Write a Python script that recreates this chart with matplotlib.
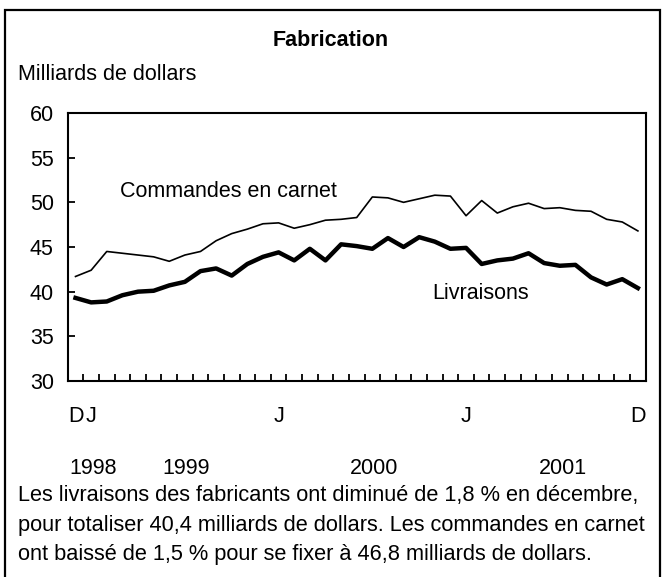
import matplotlib
matplotlib.use("Agg")
import matplotlib.pyplot as plt
import matplotlib.transforms as mtransforms
from matplotlib.patches import Rectangle

plt.rcParams["font.family"] = ["Liberation Sans", "DejaVu Sans"]

# monthly values, Dec 1998 .. Dec 2001 (billions of dollars)
commandes = [41.7, 42.4, 44.5, 44.3, 44.1, 43.9, 43.4, 44.1, 44.5, 45.7,
             46.5, 47.0, 47.6, 47.7, 47.1, 47.5, 48.0, 48.1, 48.3, 50.6,
             50.5, 50.0, 50.4, 50.8, 50.7, 48.5, 50.2, 48.8, 49.5, 49.9,
             49.3, 49.4, 49.1, 49.0, 48.1, 47.8, 46.8]
livraisons = [39.3, 38.8, 38.9, 39.6, 40.0, 40.1, 40.7, 41.1, 42.3, 42.6,
              41.8, 43.1, 43.9, 44.4, 43.5, 44.8, 43.5, 45.3, 45.1, 44.8,
              46.0, 45.0, 46.1, 45.6, 44.8, 44.9, 43.1, 43.5, 43.7, 44.3,
              43.2, 42.9, 43.0, 41.6, 40.8, 41.4, 40.4]
month_pos = [0, 1, 13, 25, 36]
month_labels = ["D", "J", "J", "J", "D"]
year_pos = [1.1, 7.1, 19.1, 31.2]
year_labels = ["1998", "1999", "2000", "2001"]
note = ("Les livraisons des fabricants ont diminué de 1,8 % en décembre,\n"
        "pour totaliser 40,4 milliards de dollars. Les commandes en carnet\n"
        "ont baissé de 1,5 % pour se fixer à 46,8 milliards de dollars.")

fs = 15.5
W, H = 662, 577
fig = plt.figure(figsize=(W / 100, H / 100), dpi=100)
ax = fig.add_axes([67.7 / W, 1 - 381 / H, (645.7 - 67.7) / W, (381 - 113) / H])

x = list(range(len(commandes)))
ax.plot(x, commandes, color="black", lw=1.2)
ax.plot(x, livraisons, color="black", lw=3.2)

ax.set_xlim(-0.5, len(x) - 0.5)
ax.set_ylim(30, 60)
ax.set_yticks(range(30, 61, 5))
ax.tick_params(axis="y", direction="in", length=5, width=1.3, labelsize=fs, pad=10)
ax.set_xticks(month_pos, month_labels)
ax.set_xticks([i + 0.5 for i in range(len(x) - 1)], minor=True)
ax.tick_params(axis="x", which="major", length=0, labelsize=fs, pad=18)
ax.tick_params(axis="x", which="minor", direction="in", length=5, width=1.3)
for s in ax.spines.values():
    s.set_linewidth(1.5)

trans = mtransforms.blended_transform_factory(ax.transData, ax.transAxes)
for p, lab in zip(year_pos, year_labels):
    ax.text(p, -0.325, lab, transform=trans, ha="center", va="center", fontsize=fs)

ax.text(9.8, 51.2, "Commandes en carnet", ha="center", va="center", fontsize=fs)
ax.text(25.9, 39.8, "Livraisons", ha="center", va="center", fontsize=fs)

fig.text(331 / W, 1 - 40 / H, "Fabrication", ha="center", va="center",
         fontsize=fs, fontweight="bold")
fig.text(18 / W, 1 - 75 / H, "Milliards de dollars", ha="left", va="center", fontsize=fs)
fig.text(18 / W, 1 - 525 / H, note, ha="left", va="center", fontsize=15.7,
         linespacing=1.56)

fig.patches.append(Rectangle((5 / W, -0.05), 655 / W, 1.05 - 10 / H,
                             transform=fig.transFigure, fill=False,
                             edgecolor="black", lw=1.6))

fig.savefig("out.png", dpi=100)
